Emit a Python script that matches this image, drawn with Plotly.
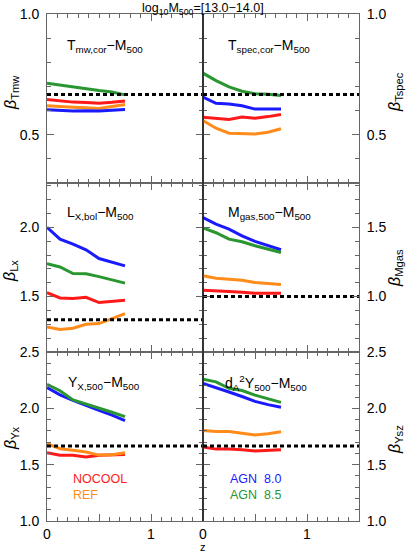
import plotly.graph_objects as go
from plotly.subplots import make_subplots

# redshift bins
z = [0.0, 0.125, 0.25, 0.375, 0.5, 0.625, 0.75]
z_span = [0.0, 1.5]

# slopes per panel: NOCOOL, REF, AGN 8.0, AGN 8.5
tmw_nocool = [0.646, 0.640, 0.635, 0.633, 0.630, 0.634, 0.640]
tmw_ref = [0.620, 0.616, 0.614, 0.612, 0.609, 0.617, 0.625]
tmw_agn80 = [0.603, 0.600, 0.598, 0.599, 0.598, 0.601, 0.604]
tmw_agn85 = [0.713, 0.705, 0.697, 0.688, 0.683, 0.677, 0.665]

tspec_nocool = [0.572, 0.568, 0.563, 0.573, 0.568, 0.575, 0.584]
tspec_ref = [0.559, 0.527, 0.506, 0.503, 0.503, 0.510, 0.525]
tspec_agn80 = [0.656, 0.630, 0.627, 0.620, 0.606, 0.606, 0.606]
tspec_agn85 = [0.755, 0.724, 0.698, 0.680, 0.670, 0.668, 0.662]

lx_nocool = [1.529, 1.490, 1.486, 1.495, 1.457, 1.463, 1.474]
lx_ref = [1.281, 1.262, 1.272, 1.300, 1.305, 1.340, 1.377]
lx_agn80 = [2.000, 1.915, 1.879, 1.838, 1.775, 1.750, 1.722]
lx_agn85 = [1.738, 1.714, 1.666, 1.664, 1.644, 1.621, 1.597]

mgas_nocool = [1.046, 1.039, 1.037, 1.032, 1.025, 1.025, 1.025]
mgas_ref = [1.150, 1.133, 1.126, 1.118, 1.101, 1.094, 1.087]
mgas_agn80 = [1.571, 1.523, 1.487, 1.439, 1.398, 1.367, 1.338]
mgas_agn85 = [1.495, 1.461, 1.415, 1.396, 1.367, 1.343, 1.318]

yx_nocool = [1.606, 1.583, 1.583, 1.568, 1.583, 1.589, 1.591]
yx_ref = [1.686, 1.642, 1.627, 1.612, 1.585, 1.589, 1.606]
yx_agn80 = [2.185, 2.120, 2.071, 2.024, 1.983, 1.939, 1.891]
yx_agn85 = [2.212, 2.156, 2.074, 2.039, 2.000, 1.965, 1.927]

ysz_nocool = [1.656, 1.638, 1.638, 1.633, 1.621, 1.627, 1.633]
ysz_ref = [1.803, 1.794, 1.794, 1.779, 1.764, 1.774, 1.792]
ysz_agn80 = [2.221, 2.185, 2.145, 2.105, 2.062, 2.033, 2.009]
ysz_agn85 = [2.259, 2.235, 2.178, 2.158, 2.117, 2.083, 2.053]

# self-similar expectations
selfsim = [2 / 3, 2 / 3, 4 / 3, 1.0, 5 / 3, 5 / 3]

panel_titles = [
    'T<sub>mw,cor</sub>\u2212M<sub>500</sub>',
    'T<sub>spec,cor</sub>\u2212M<sub>500</sub>',
    'L<sub>X,bol</sub>\u2212M<sub>500</sub>',
    'M<sub>gas,500</sub>\u2212M<sub>500</sub>',
    'Y<sub>X,500</sub>\u2212M<sub>500</sub>',
    'd<sub>A</sub><sup>2</sup>Y<sub>500</sub>\u2212M<sub>500</sub>',
]
beta_labels = ['Tmw', 'Tspec', 'Lx', 'Mgas', 'Yx', 'Ysz']
yranges = [[0.3, 1.0], [0.3, 1.0], [1.1, 2.32], [0.6, 1.82], [1.0, 2.5], [1.0, 2.5]]

panels = [
    (tmw_nocool, tmw_ref, tmw_agn80, tmw_agn85),
    (tspec_nocool, tspec_ref, tspec_agn80, tspec_agn85),
    (lx_nocool, lx_ref, lx_agn80, lx_agn85),
    (mgas_nocool, mgas_ref, mgas_agn80, mgas_agn85),
    (yx_nocool, yx_ref, yx_agn80, yx_agn85),
    (ysz_nocool, ysz_ref, ysz_agn80, ysz_agn85),
]
colors = ['#ff1a1a', '#ff8c1a', '#1a1aff', '#2a9630']

FONT = 'Liberation Sans, Arial, sans-serif'

fig = make_subplots(rows=3, cols=2, horizontal_spacing=0, vertical_spacing=0)

for i, series in enumerate(panels):
    row, col = i // 2 + 1, i % 2 + 1
    for vals, c in zip(series, colors):
        fig.add_trace(go.Scatter(x=z, y=vals, mode='lines',
                                 line=dict(color=c, width=3),
                                 showlegend=False), row=row, col=col)
    fig.add_trace(go.Scatter(x=z_span, y=[selfsim[i]] * 2, mode='lines',
                             line=dict(color='black', width=3, dash='4px,3px'),
                             showlegend=False), row=row, col=col)

    fig.update_yaxes(range=yranges[i], row=row, col=col, automargin=False,
                     side='left' if col == 1 else 'right',
                     tickvals=[0.5, 1.0, 1.5, 2.0, 2.5], tickformat='.1f',
                     ticks='inside', ticklen=7, tickcolor='#666',
                     ticklabelstandoff=4,
                     minor=dict(dtick=0.1, tick0=0, ticks='inside', ticklen=4, tickcolor='#666'),
                     showline=True, linecolor='#666', mirror='allticks',
                     showgrid=False, zeroline=False,
                     tickfont=dict(size=14, family=FONT, color='black'))
    fig.update_xaxes(range=[0, 1.5], row=row, col=col, automargin=False,
                     tickvals=[0, 0.5, 1.0, 1.5], ticktext=['0', '', '1', ''],
                     showticklabels=(row == 3),
                     ticks='inside', ticklen=7, tickcolor='#666',
                     minor=dict(dtick=0.1, tick0=0, ticks='inside', ticklen=4, tickcolor='#666'),
                     showline=True, linecolor='#666', mirror='allticks',
                     showgrid=False, zeroline=False,
                     tickfont=dict(size=14, family=FONT, color='black'))

W, H = 407, 552
L, R, T, B = 47, 48, 14, 31
pw, ph = W - L - R, H - T - B


def px(x):
    return (x - L) / pw


def py(y):
    return (H - B - y) / ph


ann = []
ann.append(dict(x=px(203), y=py(8.5), text='log<sub>10</sub>M<sub>500</sub>=[13.0\u221214.0]',
                font=dict(size=12.5)))
title_pos = [(105, 46), (269, 46), (100, 213), (269, 213), (104, 383), (266, 383)]
for (x, y), t in zip(title_pos, panel_titles):
    ann.append(dict(x=px(x), y=py(y), text=t, font=dict(size=14)))
beta_pos = [(11, 93), (395, 92), (11, 271), (395, 268), (11, 438), (395, 440)]
for (x, y), b in zip(beta_pos, beta_labels):
    ann.append(dict(x=px(x), y=py(y), text='<i>\u03b2</i><sub>' + b + '</sub>',
                    textangle=-90, font=dict(size=16)))
legend_items = [('NOCOOL', 71, 479, colors[0]), ('REF', 71, 495, colors[1]),
                ('AGN  8.0', 228, 479, colors[2]), ('AGN  8.5', 228, 495, colors[3])]
for t, x, y, c in legend_items:
    ann.append(dict(x=px(x), y=py(y), text=t, xanchor='left',
                    font=dict(size=12.5, color=c)))
ann.append(dict(x=px(203), y=py(547), text='z', font=dict(size=11)))

for a in ann:
    a.setdefault('xanchor', 'center')
    a.update(xref='paper', yref='paper', yanchor='middle', showarrow=False)
    a['font'].setdefault('color', 'black')
    a['font']['family'] = FONT

fig.update_layout(
    width=W, height=H,
    margin=dict(l=L, r=R, t=T, b=B),
    plot_bgcolor='white', paper_bgcolor='white',
    annotations=ann,
    shapes=[dict(type='line', xref='paper', yref='paper', x0=0.5, x1=0.5, y0=0, y1=1,
                 line=dict(color='black', width=1))],
)

# drop the browser's default body margin so the figure sits at the window corner
fig.write_html("out.html", config={'displayModeBar': False},
               post_script="document.body.style.margin='0';")
